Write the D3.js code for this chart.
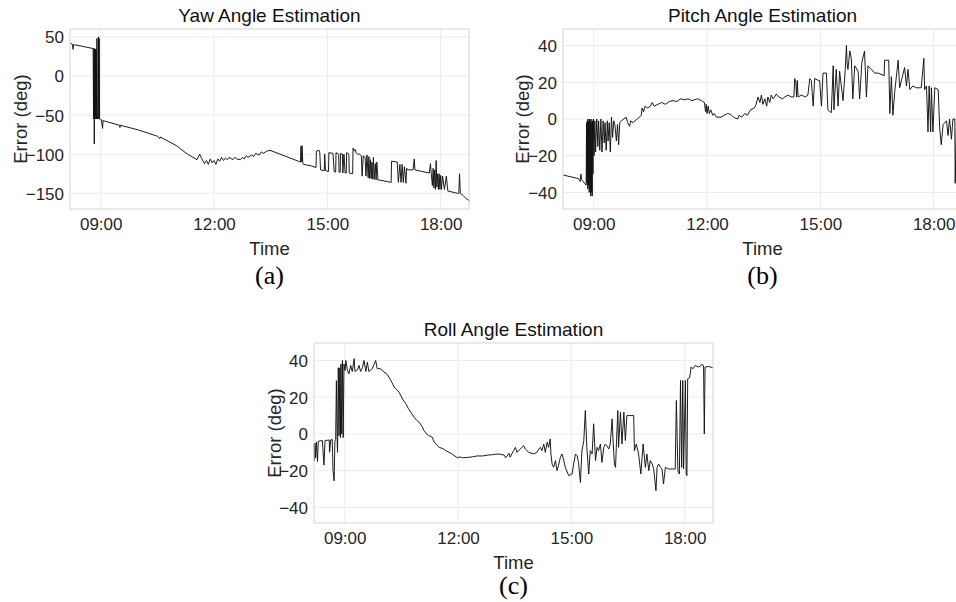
<!DOCTYPE html>
<html><head><meta charset="utf-8">
<script src="https://cdn.jsdelivr.net/npm/d3@7"></script>
<style>
html,body{margin:0;padding:0;background:#fff;}
svg{display:block;}
</style>
</head><body>
<svg id="chart" width="956" height="602"></svg>
<script>
// ---------- DATA (time in decimal hours, error in degrees) ----------
const xTickLabels = ["09:00", "12:00", "15:00", "18:00"];
const yawTicks = [-150, -100, -50, 0, 50];
const pitchTicks = [-40, -20, 0, 20, 40];
const rollTicks = [-40, -20, 0, 20, 40];

const yawHours = [8.19,8.25,8.27,8.28,8.50,8.80,8.81,8.82,8.83,8.84,8.85,8.86,8.87,8.88,8.89,8.90,8.91,8.93,8.94,8.95,8.96,8.97,8.99,9.02,9.05,9.06,9.20,9.50,9.51,9.52,10.0,10.5,10.57,10.58,11.0,11.3,11.55,11.62,11.68,11.75,11.80,11.85,11.90,11.95,12.00,12.05,12.10,12.15,12.20,12.25,12.30,12.35,12.40,12.50,12.55,12.60,12.70,12.75,12.80,12.85,12.90,13.00,13.05,13.10,13.20,13.25,13.30,13.40,13.48,14.29,14.30,14.32,14.33,14.35,14.38,14.58,14.70,14.71,14.78,14.80,14.82,14.92,14.93,14.95,15.03,15.04,15.15,15.18,15.22,15.23,15.30,15.31,15.34,15.35,15.40,15.41,15.44,15.47,15.50,15.51,15.57,15.58,15.67,15.68,15.72,15.74,15.76,15.80,15.85,15.90,15.92,15.95,16.00,16.02,16.05,16.08,16.10,16.12,16.14,16.16,16.18,16.20,16.22,16.24,16.27,16.29,16.31,16.34,16.38,16.69,16.70,16.85,16.88,16.92,16.95,16.98,17.01,17.04,17.08,17.10,17.13,17.27,17.30,17.32,17.50,17.70,17.73,17.75,17.78,17.80,17.82,17.84,17.86,17.88,17.90,17.92,17.94,17.96,17.98,18.00,18.02,18.05,18.10,18.15,18.19,18.45,18.48,18.50,18.52,18.60,18.68,18.73,18.75];
const yawError = [42,40.5,34,40,38,35,-55,35,-87,35,-55,34,-55,34,-55,48,-55,-50,50,-55,48,-55,-56,-56,-67,-57,-59,-63,-66,-63,-69,-77,-80,-78,-89,-100,-107,-100,-106,-112,-108,-113,-106,-111,-108,-113,-106,-109,-104,-108,-105,-107,-104,-107,-104,-106,-107,-104,-106,-102,-104,-101,-103,-99,-101,-97,-99,-96,-95,-110,-90,-110,-89,-112,-113,-115,-117,-96,-95,-98,-120,-121,-100,-121,-122,-98,-99,-122,-123,-98,-100,-123,-123,-99,-100,-124,-100,-124,-124,-98,-100,-124,-125,-92,-96,-94,-98,-100,-100,-102,-128,-102,-104,-128,-101,-130,-103,-131,-107,-131,-110,-132,-104,-132,-112,-133,-110,-133,-133,-136,-109,-110,-136,-113,-136,-113,-136,-116,-137,-118,-120,-120,-106,-120,-122,-124,-112,-124,-140,-118,-143,-120,-145,-108,-142,-125,-145,-125,-145,-127,-145,-128,-145,-128,-147,-150,-150,-125,-150,-153,-157,-158,-160];

const pitchHours = [8.19,8.40,8.60,8.64,8.66,8.68,8.80,8.81,8.82,8.83,8.84,8.85,8.86,8.87,8.88,8.89,8.90,8.91,8.92,8.93,8.94,8.95,8.96,8.97,8.98,8.99,9.01,9.03,9.05,9.08,9.11,9.13,9.16,9.19,9.22,9.25,9.28,9.30,9.33,9.36,9.38,9.41,9.44,9.47,9.50,9.53,9.56,9.60,9.63,9.66,9.69,9.73,9.80,9.86,9.90,9.95,9.98,10.04,10.15,10.26,10.28,10.32,10.36,10.43,10.50,10.55,10.60,10.70,10.80,10.90,11.00,11.10,11.20,11.30,11.40,11.50,11.60,11.75,11.85,11.93,11.96,11.98,12.00,12.03,12.06,12.10,12.15,12.19,12.25,12.37,12.45,12.55,12.63,12.70,12.81,12.85,12.92,13.00,13.07,13.15,13.25,13.30,13.35,13.40,13.44,13.48,13.53,13.58,13.61,13.66,13.70,13.75,13.79,13.83,13.90,14.00,14.06,14.15,14.23,14.30,14.32,14.35,14.37,14.39,14.41,14.50,14.60,14.67,14.72,14.76,14.81,14.85,14.95,14.98,15.03,15.07,15.16,15.20,15.25,15.29,15.34,15.36,15.42,15.47,15.51,15.60,15.66,15.69,15.71,15.73,15.78,15.82,15.86,15.91,16.00,16.04,16.10,16.17,16.22,16.26,16.35,16.44,16.53,16.69,16.70,16.81,16.84,16.88,16.92,16.97,17.06,17.10,17.23,17.28,17.32,17.37,17.45,17.54,17.67,17.74,17.76,17.81,17.85,17.88,17.92,17.94,17.98,18.03,18.12,18.16,18.20,18.25,18.34,18.38,18.42,18.47,18.51,18.56,18.57,18.60,18.75];
const pitchError = [-30.5,-31.5,-32.5,-34,-30,-33,-36,-2,-35,-1,-38,0,-36,-1,-40,0,-38,-1,-42,0,-40,-2,-42,-1,-30,0,-20,-1,-18,0,-15,-1,-17,0,-18,-1,-13,-2,-17,-1,-12,-2,-18,1,-10,-1,-3,-12,-3,-14,-2,-1,0,1,-2,-4,-1,-2,0,2,6,4,7,6,7,9,7,8,9,8,9.5,10,9.5,11,10.5,11,10,11,10,9,4,8,3,7,3,5,2,3,1,1,2,3,2.5,1,0,2,1,3,2,5,6,8,12,9,13,8,11,7,12,9,13,11,12,13.6,12,11,12,13,12,12,22,20,12,21,12,13,12,13,22,21,7,22,21,21,7,25,25,5,4,3.5,29,5,27,7,26,10,27,40,30,27,37,33,11,29,26,11,31,37,12,29,27,25,25,23.6,32,32,3,23,2,15,32,17,28,18,27,16,18,17,17,33,16,18,-7,18,-7,17,-7,17,16,-5,-14,-3,-1,-9,0,-11,0,0,-35,-5,-5];

const rollHours = [8.19,8.20,8.21,8.23,8.25,8.28,8.30,8.41,8.45,8.48,8.59,8.60,8.63,8.67,8.69,8.72,8.74,8.76,8.78,8.80,8.81,8.83,8.85,8.87,8.89,8.90,8.92,8.94,8.96,8.98,9.01,9.03,9.07,9.11,9.16,9.20,9.25,9.27,9.34,9.38,9.42,9.47,9.51,9.56,9.60,9.64,9.73,9.82,9.86,9.95,10.04,10.10,10.17,10.25,10.31,10.38,10.44,10.53,10.62,10.68,10.75,10.84,10.90,10.97,11.05,11.10,11.19,11.32,11.36,11.41,11.50,11.60,11.67,11.76,11.85,11.98,12.05,12.12,12.25,12.38,12.50,12.65,12.80,12.91,13.00,13.09,13.22,13.26,13.30,13.35,13.38,13.47,13.52,13.56,13.65,13.69,13.74,13.78,13.87,14.00,14.09,14.14,14.18,14.22,14.27,14.31,14.36,14.40,14.44,14.46,14.49,14.53,14.58,14.62,14.66,14.71,14.75,14.80,14.84,14.93,15.02,15.06,15.11,15.15,15.19,15.24,15.28,15.33,15.37,15.41,15.46,15.50,15.55,15.59,15.64,15.68,15.72,15.77,15.81,15.86,15.90,15.94,15.99,16.03,16.08,16.10,16.14,16.17,16.19,16.23,16.25,16.30,16.34,16.39,16.43,16.47,16.52,16.65,16.67,16.72,16.78,16.84,16.90,16.96,17.00,17.05,17.09,17.14,17.18,17.24,17.27,17.31,17.36,17.40,17.44,17.49,17.58,17.67,17.75,17.78,17.82,17.86,17.89,17.92,17.95,17.97,18.02,18.04,18.06,18.08,18.13,18.17,18.22,18.28,18.37,18.46,18.50,18.52,18.54,18.64,18.75];
const rollError = [-5.5,-14.5,-5,-13,-4.5,-15,-4,-3.6,-17,-3.6,-3.3,-10,-3.3,-3,-20,-25.5,-4,-3,29,-3,-10,36,-1,36,-2,38,0,40,-2,38,34.5,40,35,32.7,37.3,34,41,34,35,37.3,34,36,40,34,39,34,35.5,40,35.5,35.5,33.6,33,31,28,25.5,24,22.7,19,16.4,14,11.8,9,7.5,6.4,4,1.8,-0.5,-1.8,-4,-5.5,-7.3,-8,-9,-10,-11,-13,-12.5,-13,-12.8,-12.5,-12,-12,-11.5,-11.3,-11,-11,-11.5,-13,-12,-10.5,-12.7,-9.1,-7.3,-10,-8.2,-7.3,-6.4,-8.2,-10,-10.9,-10,-8.2,-7.3,-9.1,-5.5,-10,-4.5,-7.3,-2.7,-10.9,-16.4,-18.2,-14.5,-20,-17.3,-12.7,-10.9,-14.5,-18.2,-22.7,-21.8,-16.4,-10.9,-11.8,-15.5,-26.4,-9.1,-3.6,12.7,-7.3,-21.8,-9.1,-10.9,5.5,-14.5,-7.3,-9.1,-5.5,-15.5,-7.3,-5.5,-6.4,-8.2,-5.5,8.2,-1.8,-16.4,-18.2,-7.3,12.7,-7.3,11.8,-5.5,11.8,-3.6,10,10,10,-9.1,-5.5,-10.9,-21.8,-5.5,-18.2,-10.9,-20,-14.5,-16.4,-19.1,-30.9,-18.2,-16.4,-18.2,-19.1,-27.3,-18.2,-19.1,-19.1,-19.1,18.2,-20,-21.8,29.1,-18.2,29.1,-19.1,29.1,-21.8,-22.7,30,30.5,36.4,35.5,37.3,36.4,37.8,37.3,0,36.4,36.7,36];

// ---------- DRAWING ----------
const svg = d3.select("#chart");
const base = new Date(2000, 0, 1, 0, 0, 0).getTime();
const toDate = h => new Date(base + h * 3600e3);
const fmt = d3.timeFormat("%H:%M");
const textColor = "#262626";
const sans = "'Liberation Sans', Arial, Helvetica, sans-serif";
const serif = "'Liberation Serif', 'Times New Roman', serif";

function panel(o) {
  const g = svg.append("g").attr("transform", `translate(${o.left},${o.top})`);
  const w = 399, h = 180;
  const x = d3.scaleTime().domain([toDate(8.187), toDate(18.75)]).range([0, w]);
  const y = d3.scaleLinear().domain(o.yDomain).range([h, 0]);
  const xTicks = x.ticks(d3.timeHour.every(3)).filter(d => xTickLabels.includes(fmt(d)));

  // grid
  g.append("g").selectAll("line.vg").data(xTicks).join("line")
    .attr("x1", d => x(d)).attr("x2", d => x(d)).attr("y1", 0).attr("y2", h)
    .attr("stroke", "#ececec").attr("stroke-width", 1);
  g.append("g").selectAll("line.hg").data(o.yTicks).join("line")
    .attr("x1", 0).attr("x2", w).attr("y1", d => y(d)).attr("y2", d => y(d))
    .attr("stroke", "#ececec").attr("stroke-width", 1);

  // data line
  const pts = o.hours.map((t, i) => [t, o.values[i]]);
  const line = d3.line().x(d => x(toDate(d[0]))).y(d => y(d[1]));
  g.append("path").datum(pts).attr("d", line)
    .attr("fill", "none").attr("stroke", "#111").attr("stroke-width", 0.95)
    .attr("stroke-linejoin", "round");

  // frame
  g.append("rect").attr("x", 0).attr("y", 0).attr("width", w).attr("height", h)
    .attr("fill", "none").attr("stroke", "#d4d4d4").attr("stroke-width", 1);

  // axes (labels only)
  const xa = g.append("g").attr("transform", `translate(0,${h})`)
    .call(d3.axisBottom(x).tickValues(xTicks).tickFormat(fmt).tickSize(0).tickPadding(9));
  const ya = g.append("g")
    .call(d3.axisLeft(y).tickValues(o.yTicks).tickFormat(d3.format("d")).tickSize(0).tickPadding(6));
  [xa, ya].forEach(a => {
    a.select(".domain").remove();
    a.selectAll("text").attr("fill", textColor).style("font-family", sans).style("font-size", "17px");
  });
  xa.selectAll("text").attr("dy", null).attr("y", 21);
  ya.selectAll("text").attr("dy", "0.35em");

  // titles / labels
  g.append("text").attr("x", w / 2).attr("y", -7).attr("text-anchor", "middle")
    .attr("fill", "#111").style("font-family", sans).style("font-size", "19px").text(o.title);
  g.append("text").attr("x", w / 2).attr("y", h + 46).attr("text-anchor", "middle")
    .attr("fill", textColor).style("font-family", sans).style("font-size", "18.5px").text("Time");
  g.append("text").attr("transform", `translate(${o.ylabX},${h / 2}) rotate(-90)`)
    .attr("text-anchor", "middle").attr("fill", textColor)
    .style("font-family", sans).style("font-size", "18.5px").text("Error (deg)");
  g.append("text").attr("x", w / 2).attr("y", h + o.capDy).attr("text-anchor", "middle")
    .attr("fill", "#000").style("font-family", serif).style("font-size", "26px").text(o.caption);
}

panel({left: 70, top: 29, yDomain: [-170, 60], yTicks: yawTicks, hours: yawHours, values: yawError,
       title: "Yaw Angle Estimation", caption: "(a)", ylabX: -43, capDy: 75});
panel({left: 563, top: 29, yDomain: [-49, 49], yTicks: pitchTicks, hours: pitchHours, values: pitchError,
       title: "Pitch Angle Estimation", caption: "(b)", ylabX: -34, capDy: 75});
panel({left: 314, top: 343, yDomain: [-48.5, 49.5], yTicks: rollTicks, hours: rollHours, values: rollError,
       title: "Roll Angle Estimation", caption: "(c)", ylabX: -33, capDy: 71});
</script>
</body></html>
